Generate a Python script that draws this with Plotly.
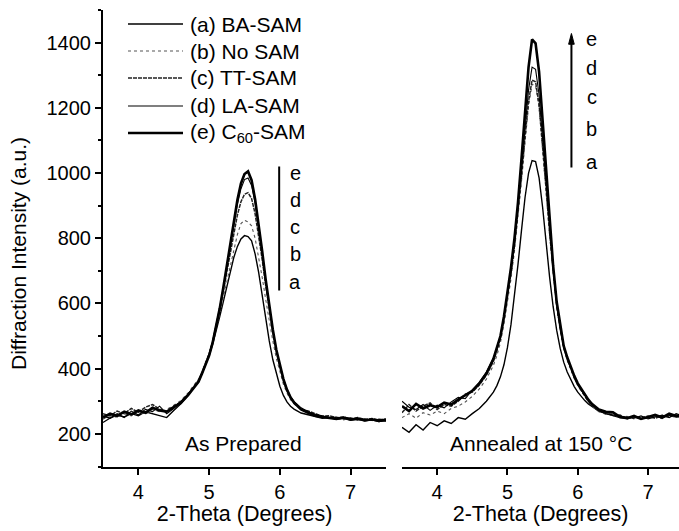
import plotly.graph_objects as go

W, H = 679, 531

# shared 2-theta grid (degrees)
X = [3.5, 3.6, 3.7, 3.8, 3.9, 4.0, 4.1, 4.2, 4.3, 4.4, 4.5, 4.6, 4.7,
     4.8, 4.85, 4.9, 4.95, 5.0, 5.05, 5.1, 5.15, 5.2, 5.25, 5.3, 5.35, 5.4, 5.45,
     5.5, 5.55, 5.6, 5.65, 5.7, 5.75, 5.8, 5.85, 5.9, 5.95, 6.0, 6.05, 6.1, 6.15, 6.2,
     6.3, 6.4, 6.5, 6.6, 6.7, 6.8, 6.9, 7.0, 7.1, 7.2, 7.3, 7.4, 7.5]

# ---- As Prepared ----
prep_a = [255, 248, 258, 252, 262, 256, 268, 262, 258, 250, 272, 292, 318,
          345, 360, 385, 410, 440, 475, 515, 560, 605, 652, 700, 742, 775, 798,
          808, 805, 792, 752, 695, 625, 552, 485, 428, 382, 346, 318, 298, 285, 276,
          264, 258, 252, 248, 250, 245, 248, 242, 245, 240, 243, 238, 241]
prep_b = [245, 258, 250, 262, 255, 268, 260, 275, 268, 275, 288, 302, 325,
          352, 368, 392, 418, 448, 482, 522, 568, 618, 668, 720, 770, 812, 845,
          855, 850, 838, 800, 745, 680, 612, 545, 485, 432, 388, 352, 325, 305, 292,
          274, 264, 258, 250, 253, 247, 243, 248, 242, 245, 240, 246, 241]
prep_c = [262, 255, 270, 262, 278, 266, 282, 290, 276, 270, 285, 298, 320,
          350, 365, 390, 415, 445, 482, 528, 580, 638, 698, 760, 820, 872, 912,
          935, 940, 922, 875, 810, 735, 655, 580, 512, 452, 402, 362, 332, 310, 295,
          276, 270, 262, 254, 256, 249, 252, 246, 250, 244, 247, 243, 246]
prep_d = [235, 248, 262, 250, 270, 258, 275, 268, 285, 262, 278, 300, 322,
          348, 362, 388, 415, 445, 485, 532, 588, 648, 712, 778, 845, 905, 952,
          980, 985, 962, 908, 835, 752, 668, 588, 518, 458, 408, 370, 338, 315, 300,
          280, 268, 260, 255, 250, 252, 246, 249, 243, 246, 241, 244, 239]
prep_e = [250, 262, 255, 268, 260, 272, 265, 280, 272, 268, 282, 295, 318,
          345, 360, 385, 410, 440, 480, 530, 585, 648, 715, 785, 855, 918, 968,
          997, 1005, 978, 920, 845, 760, 672, 592, 520, 458, 408, 368, 336, 312, 296,
          275, 265, 256, 252, 249, 246, 250, 244, 247, 241, 245, 240, 243]

# ---- Annealed at 150 C ----
ann_a = [220, 205, 228, 212, 235, 225, 240, 232, 250, 245, 262, 278, 300,
         328, 348, 375, 412, 465, 535, 620, 720, 825, 925, 1000, 1038, 1035, 985,
         895, 785, 680, 590, 518, 462, 420, 390, 365, 345, 328, 314, 302, 292, 284,
         270, 262, 255, 250, 248, 252, 246, 250, 256, 249, 258, 252, 256]
ann_b = [250, 262, 248, 265, 258, 270, 262, 278, 285, 298, 315, 338, 368,
         410, 440, 480, 535, 600, 675, 762, 860, 975, 1095, 1205, 1272, 1268, 1200,
         1082, 942, 808, 690, 590, 518, 462, 425, 396, 370, 348, 330, 314, 298, 286,
         268, 260, 262, 250, 254, 246, 252, 248, 255, 247, 256, 250, 254]
ann_c = [265, 290, 270, 285, 295, 275, 290, 285, 300, 322, 328, 350, 380,
         422, 455, 495, 552, 618, 692, 778, 875, 990, 1110, 1220, 1285, 1280, 1210,
         1090, 950, 815, 695, 595, 522, 466, 430, 400, 372, 350, 332, 315, 300, 288,
         270, 265, 256, 258, 246, 252, 249, 255, 248, 256, 252, 258, 250]
ann_d = [300, 282, 275, 290, 272, 288, 280, 298, 312, 308, 335, 358, 390,
         432, 465, 502, 560, 625, 700, 785, 885, 1005, 1135, 1255, 1325, 1318, 1240,
         1110, 965, 825, 700, 598, 525, 468, 432, 402, 375, 352, 335, 318, 302, 290,
         272, 262, 258, 255, 250, 248, 255, 246, 252, 258, 250, 262, 255]
ann_e = [285, 270, 292, 278, 288, 282, 296, 290, 305, 318, 332, 355, 385,
         430, 462, 500, 560, 630, 710, 800, 910, 1045, 1190, 1325, 1410, 1398, 1310,
         1165, 1000, 845, 715, 605, 530, 470, 435, 405, 378, 355, 338, 322, 305, 292,
         275, 268, 266, 252, 248, 255, 246, 252, 258, 250, 262, 255, 258]

NAMES = ["(a) BA-SAM", "(b) No SAM", "(c) TT-SAM", "(d) LA-SAM", "(e) C<sub>60</sub>-SAM"]
LETTERS = ["e", "d", "c", "b", "a"]
PANEL_TEXT = ["As Prepared", "Annealed at 150 °C"]
YTICKS = [200, 400, 600, 800, 1000, 1200, 1400]
XTICKS = [4, 5, 6, 7]

STYLES = [
    dict(color="black", width=1.4, dash="solid"),
    dict(color="#555555", width=1.1, dash="dot"),
    dict(color="#222222", width=1.5, dash="4px,1px"),
    dict(color="black", width=1.1, dash="solid"),
    dict(color="black", width=2.6, dash="solid"),
]

FONT = "Arial, Liberation Sans, sans-serif"

fig = go.Figure()
for name, ys, st in zip(NAMES, [prep_a, prep_b, prep_c, prep_d, prep_e], STYLES):
    fig.add_trace(go.Scatter(x=X, y=ys, mode="lines", name=name, line=st,
                             xaxis="x", yaxis="y", showlegend=False))
for name, ys, st in zip(NAMES, [ann_a, ann_b, ann_c, ann_d, ann_e], STYLES):
    fig.add_trace(go.Scatter(x=X, y=ys, mode="lines", name=name, line=st,
                             xaxis="x2", yaxis="y", showlegend=False))

def px(v):  # pixel x -> paper
    return v / W

def py(v):  # pixel y -> paper
    return 1 - v / H

axis_common = dict(showline=True, linecolor="black", linewidth=2, ticks="outside",
                   ticklen=6, tickwidth=2, tickcolor="black", showgrid=False,
                   zeroline=False, tickfont=dict(family=FONT, size=20, color="black"))

fig.update_layout(
    width=W, height=H, margin=dict(l=0, r=0, t=0, b=0),
    paper_bgcolor="white", plot_bgcolor="white",
    font=dict(family=FONT, color="black"),
    xaxis=dict(domain=[px(103), px(386)], range=[3.5, 7.5], anchor="y",
               tickvals=XTICKS,
               title=dict(text="2-Theta (Degrees)", font=dict(size=21.5), standoff=4),
               **axis_common),
    xaxis2=dict(domain=[px(402), 1.0], range=[3.5, 7.44], anchor="y",
                tickvals=XTICKS,
                title=dict(text="2-Theta (Degrees)", font=dict(size=21.5), standoff=4),
                **axis_common),
    yaxis=dict(domain=[py(466.5), py(10)], range=[100, 1500], anchor="x",
               tickvals=YTICKS,
               minor=dict(dtick=100, tick0=100, ticks="outside", ticklen=3,
                          tickwidth=1.5, tickcolor="black"),
               **axis_common),
    showlegend=False,
)

annotations = []
shapes = []

# y-axis title
annotations.append(dict(text="Diffraction Intensity (a.u.)", xref="paper", yref="paper",
                        x=px(18), y=py(254), textangle=-90, showarrow=False,
                        font=dict(size=21, family=FONT), xanchor="center", yanchor="middle"))

# custom legend
leg_y = [24, 51, 78, 106, 133]
for name, st, yy in zip(NAMES, STYLES, leg_y):
    shapes.append(dict(type="line", xref="paper", yref="paper",
                       x0=px(128), x1=px(183), y0=py(yy), y1=py(yy), line=st))
    annotations.append(dict(text=name, xref="paper", yref="paper", x=px(188), y=py(yy),
                            xanchor="left", yanchor="middle", showarrow=False,
                            font=dict(size=21, family=FONT)))

# panel captions
annotations.append(dict(text=PANEL_TEXT[0], xref="paper", yref="paper", x=px(243), y=py(443),
                        xanchor="center", yanchor="middle",
                        showarrow=False, font=dict(size=21, family=FONT)))
annotations.append(dict(text=PANEL_TEXT[1], xref="paper", yref="paper",
                        x=px(541), y=py(443), xanchor="center", yanchor="middle",
                        showarrow=False, font=dict(size=21, family=FONT)))

# order markers, left panel
shapes.append(dict(type="line", xref="x", yref="y", x0=5.99, x1=5.99, y0=640, y1=1020,
                   line=dict(color="black", width=2)))
for L, yv in zip(LETTERS, [1000, 918, 834, 752, 665]):
    annotations.append(dict(text=L, xref="x", yref="y", x=6.22, y=yv, showarrow=False,
                            xanchor="center", yanchor="middle",
                            font=dict(size=20, family=FONT)))

# order markers, right panel (line with small arrowhead)
shapes.append(dict(type="line", xref="x2", yref="y", x0=5.91, x1=5.91, y0=1017, y1=1400,
                   line=dict(color="black", width=2)))
shapes.append(dict(type="path", xref="x2", yref="y",
                   path="M 5.87 1395 L 5.95 1395 L 5.91 1428 Z",
                   fillcolor="black", line=dict(color="black", width=1)))
for L, yv in zip(LETTERS, [1410, 1322, 1232, 1134, 1035]):
    annotations.append(dict(text=L, xref="x2", yref="y", x=6.2, y=yv, showarrow=False,
                            xanchor="center", yanchor="middle",
                            font=dict(size=20, family=FONT)))

fig.update_layout(annotations=annotations, shapes=shapes)
fig.write_html("out.html")
